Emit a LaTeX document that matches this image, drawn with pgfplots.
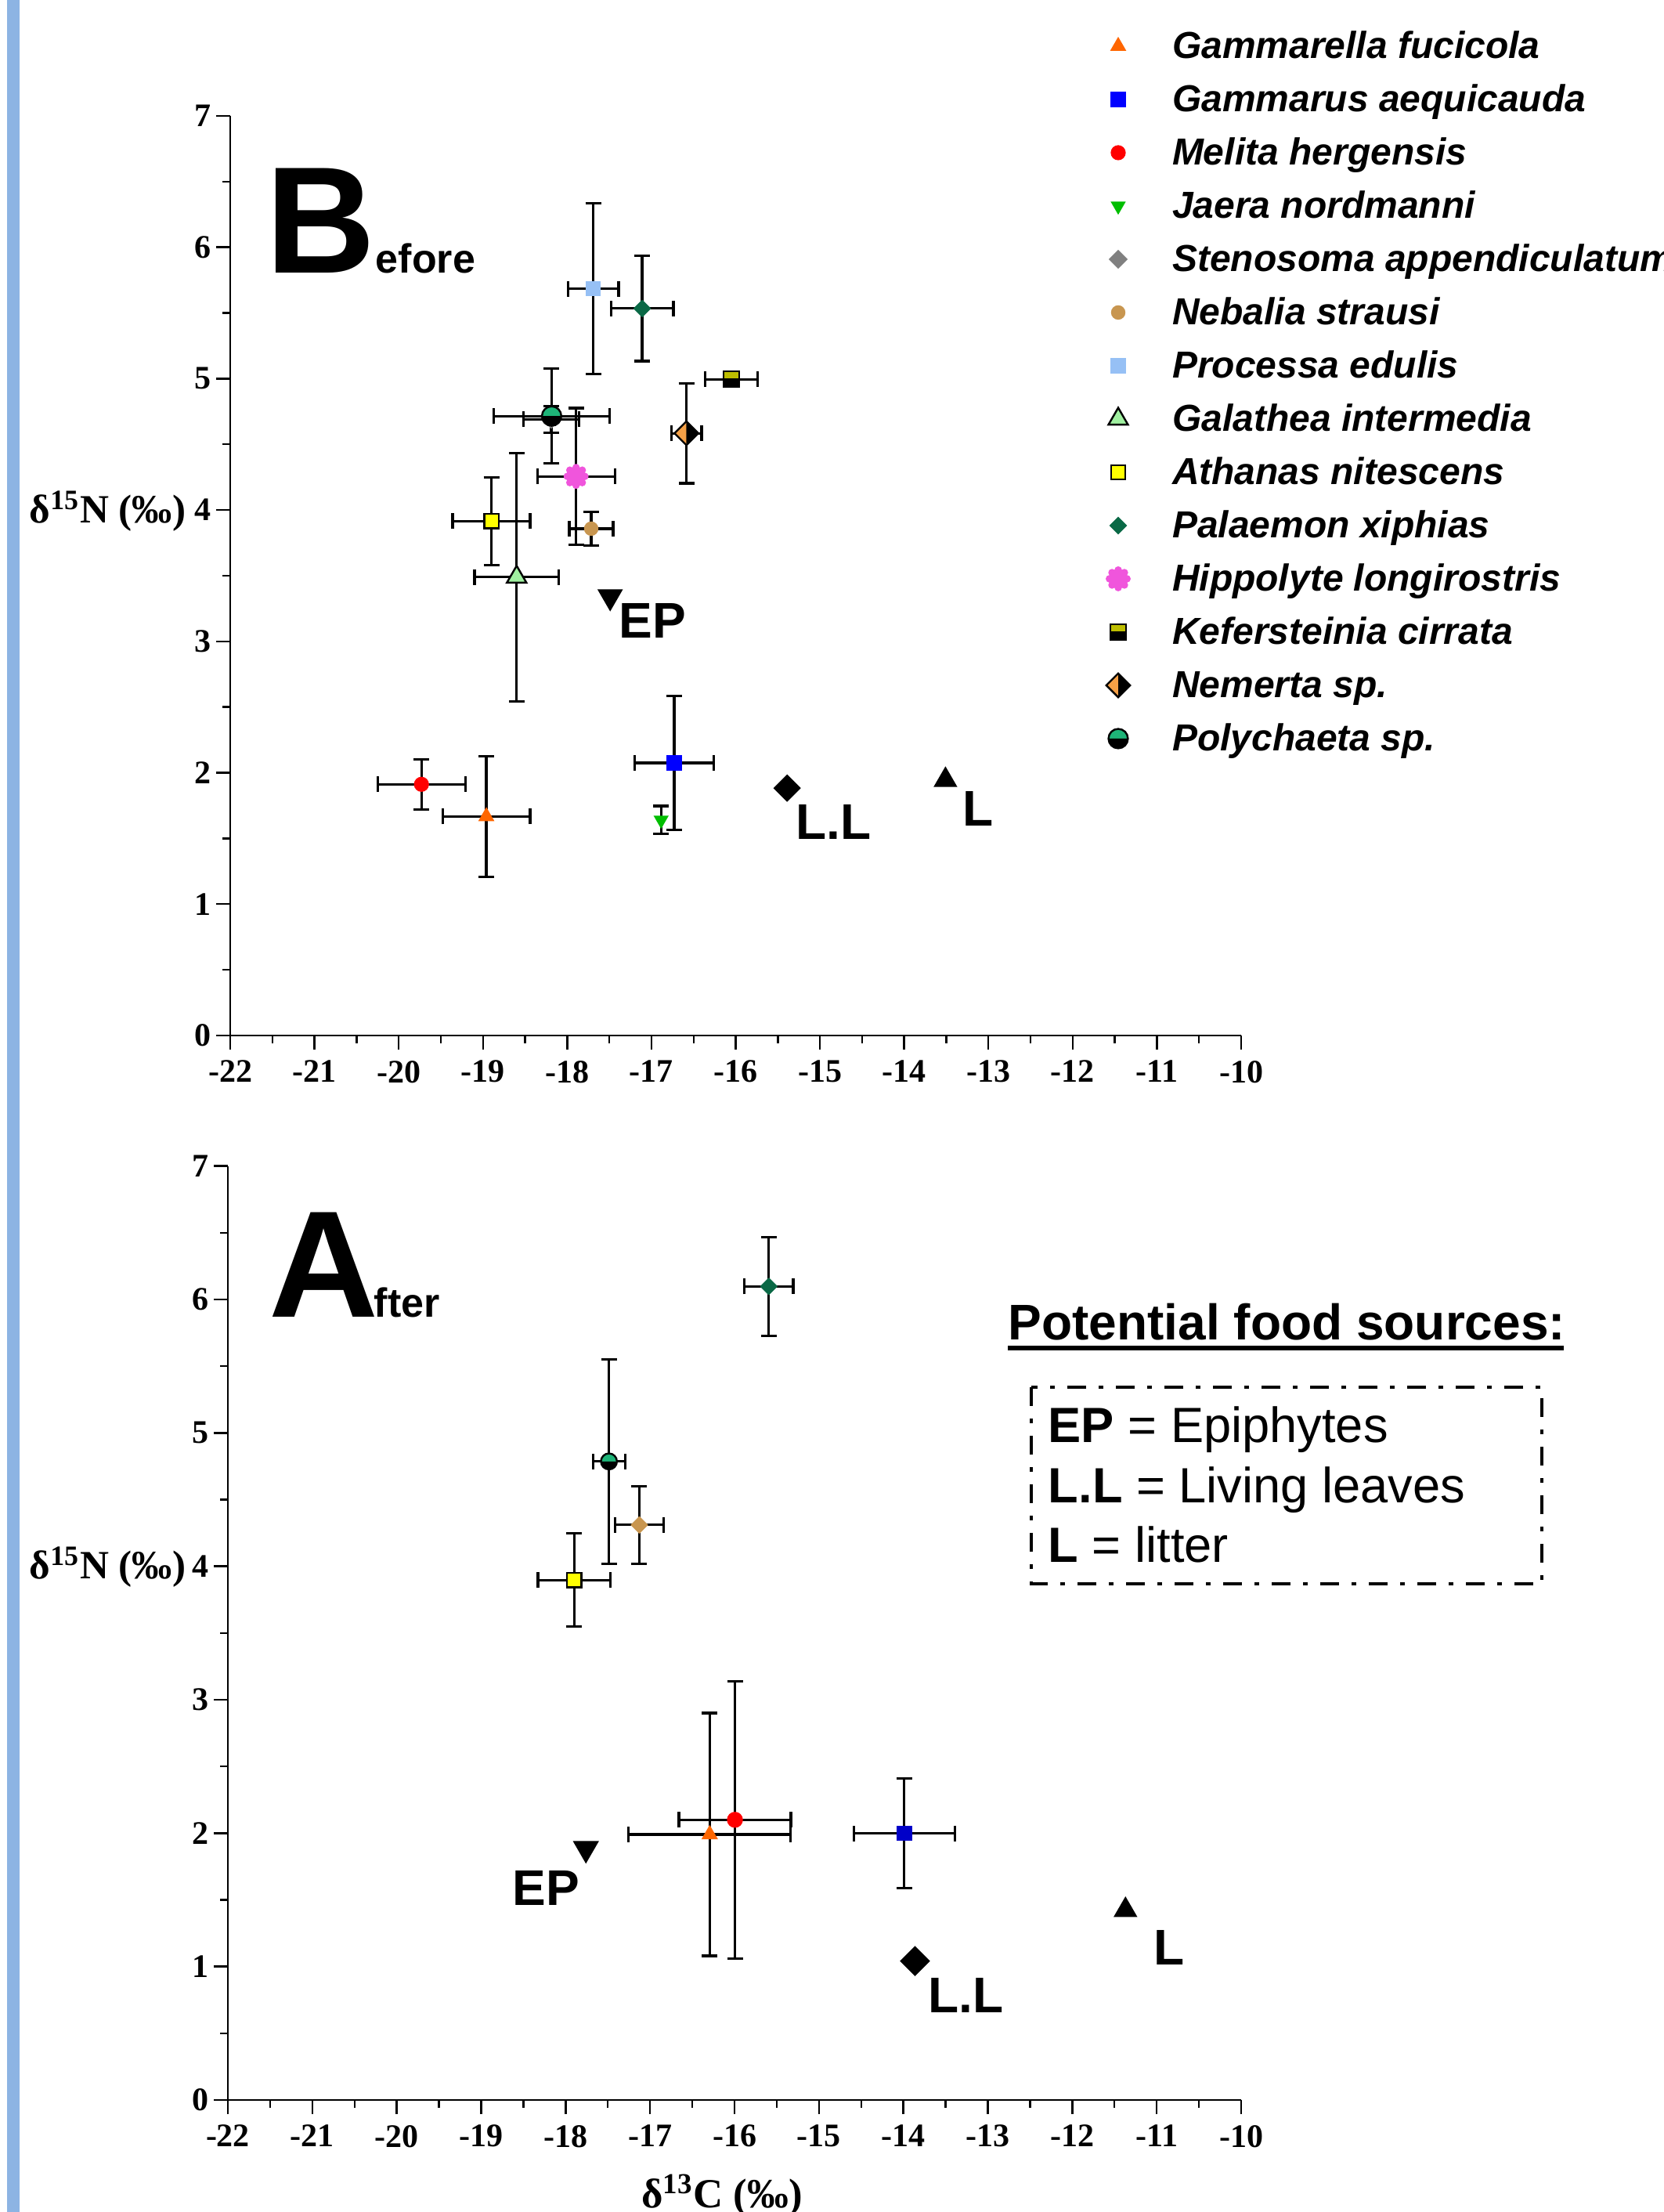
\documentclass[border=0pt]{standalone}
\usepackage{fontspec}
\setmainfont{Liberation Serif}
\setsansfont{Liberation Sans}
\usepackage{pgfplots}
\pgfplotsset{compat=1.18}

\definecolor{cOrange}{RGB}{255,102,0}
\definecolor{cBlue}{RGB}{0,0,255}
\definecolor{cBlueD}{RGB}{0,0,200}
\definecolor{cRed}{RGB}{255,0,0}
\definecolor{cGreen}{RGB}{0,190,0}
\definecolor{cGrey}{RGB}{128,128,128}
\definecolor{cTan}{RGB}{200,150,80}
\definecolor{cLBlue}{RGB}{150,192,245}
\definecolor{cLGreen}{RGB}{160,240,160}
\definecolor{cYellow}{RGB}{255,255,0}
\definecolor{cDGreen}{RGB}{10,105,70}
\definecolor{cPink}{RGB}{240,85,220}
\definecolor{cOlive}{RGB}{190,190,0}
\definecolor{cLOrange}{RGB}{245,160,70}
\definecolor{cTeal}{RGB}{30,180,120}
\definecolor{cBar}{RGB}{141,180,227}

\pgfdeclareplotmark{flower}{%
  \pgfpathcircle{\pgfpointorigin}{0.6\pgfplotmarksize}%
  \pgfpathcircle{\pgfpointpolar{0}{0.7\pgfplotmarksize}}{0.3\pgfplotmarksize}%
  \pgfpathcircle{\pgfpointpolar{45}{0.7\pgfplotmarksize}}{0.3\pgfplotmarksize}%
  \pgfpathcircle{\pgfpointpolar{90}{0.7\pgfplotmarksize}}{0.3\pgfplotmarksize}%
  \pgfpathcircle{\pgfpointpolar{135}{0.7\pgfplotmarksize}}{0.3\pgfplotmarksize}%
  \pgfpathcircle{\pgfpointpolar{180}{0.7\pgfplotmarksize}}{0.3\pgfplotmarksize}%
  \pgfpathcircle{\pgfpointpolar{225}{0.7\pgfplotmarksize}}{0.3\pgfplotmarksize}%
  \pgfpathcircle{\pgfpointpolar{270}{0.7\pgfplotmarksize}}{0.3\pgfplotmarksize}%
  \pgfpathcircle{\pgfpointpolar{315}{0.7\pgfplotmarksize}}{0.3\pgfplotmarksize}%
  \pgfusepathqfill}

\pgfdeclareplotmark{kefer}{%
  \pgfsetfillcolor{cOlive}%
  \pgfpathrectangle{\pgfqpoint{-\pgfplotmarksize}{-\pgfplotmarksize}}{\pgfqpoint{2\pgfplotmarksize}{2\pgfplotmarksize}}%
  \pgfusepathqfill
  \pgfsetfillcolor{black}%
  \pgfpathrectangle{\pgfqpoint{-\pgfplotmarksize}{-\pgfplotmarksize}}{\pgfqpoint{2\pgfplotmarksize}{1.1\pgfplotmarksize}}%
  \pgfusepathqfill
  \pgfsetstrokecolor{black}%
  \pgfpathrectangle{\pgfqpoint{-\pgfplotmarksize}{-\pgfplotmarksize}}{\pgfqpoint{2\pgfplotmarksize}{2\pgfplotmarksize}}%
  \pgfusepathqstroke}

\pgfdeclareplotmark{nemerta}{%
  \pgfsetfillcolor{cLOrange}%
  \pgfpathmoveto{\pgfqpoint{0pt}{\pgfplotmarksize}}%
  \pgfpathlineto{\pgfqpoint{-\pgfplotmarksize}{0pt}}%
  \pgfpathlineto{\pgfqpoint{0pt}{-\pgfplotmarksize}}%
  \pgfpathclose\pgfusepathqfill
  \pgfsetfillcolor{black}%
  \pgfpathmoveto{\pgfqpoint{0pt}{\pgfplotmarksize}}%
  \pgfpathlineto{\pgfqpoint{\pgfplotmarksize}{0pt}}%
  \pgfpathlineto{\pgfqpoint{0pt}{-\pgfplotmarksize}}%
  \pgfpathclose\pgfusepathqfill
  \pgfsetstrokecolor{black}%
  \pgfpathmoveto{\pgfqpoint{0pt}{\pgfplotmarksize}}%
  \pgfpathlineto{\pgfqpoint{\pgfplotmarksize}{0pt}}%
  \pgfpathlineto{\pgfqpoint{0pt}{-\pgfplotmarksize}}%
  \pgfpathlineto{\pgfqpoint{-\pgfplotmarksize}{0pt}}%
  \pgfpathclose\pgfusepathqstroke}

\pgfdeclareplotmark{polych}{%
  \pgfsetfillcolor{cTeal}%
  \pgfpathmoveto{\pgfqpoint{\pgfplotmarksize}{0pt}}%
  \pgfpatharc{0}{180}{\pgfplotmarksize}%
  \pgfpathclose\pgfusepathqfill
  \pgfsetfillcolor{black}%
  \pgfpathmoveto{\pgfqpoint{-\pgfplotmarksize}{0pt}}%
  \pgfpatharc{180}{360}{\pgfplotmarksize}%
  \pgfpathclose\pgfusepathqfill
  \pgfsetstrokecolor{black}%
  \pgfpathcircle{\pgfpointorigin}{\pgfplotmarksize}%
  \pgfusepathqstroke}

\pgfplotsset{
  mylegimg/.style={legend image code/.code={\path[draw=none,fill=none] (-9pt,-1pt) rectangle (9pt,1pt);\draw[mark repeat=1,##1] plot coordinates {(0pt,0pt)};}},
  pt/.style={only marks, mylegimg},
  eb/.style={error bars/x dir=both, error bars/x explicit, error bars/y dir=both, error bars/y explicit},
  ebx/.style={error bars/x dir=both, error bars/x explicit},
  eby/.style={error bars/y dir=both, error bars/y explicit},
  common/.style={
    anchor=south west, scale only axis,
    xmin=-22, xmax=-10, ymin=0, ymax=7,
    axis x line*=bottom, axis y line*=left,
    axis line style={line width=0.6pt, black},
    tick style={line width=0.6pt, black},
    tick align=outside,
    major tick length=4.5pt, minor tick length=2.5pt,
    xtick={-22,-21,-20,-19,-18,-17,-16,-15,-14,-13,-12,-11,-10},
    xticklabels={-22,-21,-20,-19,-18,-17,-16,-15,-14,-13,-12,-11,-10},
    ytick={0,1,2,3,4,5,6,7},
    yticklabels={0,1,2,3,4,5,6,7},
    minor x tick num=1, minor y tick num=1,
    tick label style={font=\bfseries\fontsize{10.5}{12}\selectfont},
    yticklabel style={inner xsep=1.5pt},
    clip=false,
    error bars/error bar style={line width=0.8pt, black},
    error bars/error mark options={rotate=90, line width=0.8pt, mark size=2.5pt, black},
  }
}

\begin{document}
\begin{tikzpicture}
\path[use as bounding box] (0pt,0pt) rectangle (531pt,706pt);
\fill[cBar] (2.25pt,0pt) rectangle (6.25pt,706pt);

% ---------------- Before ----------------
\begin{axis}[common, at={(73.5pt,375.5pt)}, width=322.75pt, height=293.5pt,
  legend cell align=left,
  legend style={at={(0.8505,1.1048)}, anchor=north west, draw=none, fill=none,
    inner sep=0pt, outer sep=0pt, row sep=0pt,
    font=\sffamily\bfseries\itshape\fontsize{12}{14}\selectfont,
    nodes={inner sep=0pt, text height=12.5pt, text depth=4.5pt},
    /tikz/every odd column/.append style={column sep=8.25pt}},
]
\addplot[pt, mark=triangle*, color=cOrange, mark size=2.6pt, eb]
  coordinates {(-18.96,1.667) +- (0.52,0.46)};
\addlegendentry{Gammarella fucicola}
\addplot[pt, mark=square*, color=cBlue, mark size=2.25pt, eb]
  coordinates {(-16.73,2.075) +- (0.47,0.51)};
\addlegendentry{Gammarus aequicauda}
\addplot[pt, mark=*, color=cRed, mark size=2.2pt, eb]
  coordinates {(-19.73,1.912) +- (0.52,0.19)};
\addlegendentry{Melita hergensis}
\addplot[pt, mark=triangle*, mark options={rotate=180}, color=cGreen, mark size=2.4pt, eby]
  coordinates {(-16.885,1.64) +- (0,0.107)};
\addlegendentry{Jaera nordmanni}
\addplot[pt, mark=square*, mark options={rotate=45}, color=cGrey, mark size=1.95pt, eb]
  coordinates {(-18.19,4.69) +- (0.33,0.10)};
\addlegendentry{Stenosoma appendiculatum}
\addplot[pt, mark=*, color=cTan, mark size=2.1pt, eb]
  coordinates {(-17.715,3.858) +- (0.26,0.13)};
\addlegendentry{Nebalia strausi}
\addplot[pt, mark=square*, color=cLBlue, mark size=2.25pt, eb]
  coordinates {(-17.69,5.685) +- (0.30,0.65)};
\addlegendentry{Processa edulis}
\addplot[pt, mark=triangle*, mark options={fill=cLGreen, draw=black, line width=0.6pt}, color=cLGreen, mark size=3.6pt, eb]
  coordinates {(-18.60,3.49) +- (0.50,0.945)};
\addlegendentry{Galathea intermedia}
\addplot[pt, mark=square*, mark options={fill=cYellow, draw=black, line width=0.6pt}, color=cYellow, mark size=2.3pt, eb]
  coordinates {(-18.90,3.915) +- (0.46,0.335)};
\addlegendentry{Athanas nitescens}
\addplot[pt, mark=square*, mark options={rotate=45}, color=cDGreen, mark size=1.8pt, eb]
  coordinates {(-17.11,5.534) +- (0.37,0.40)};
\addlegendentry{Palaemon xiphias}
\addplot[pt, mark=flower, color=cPink, mark size=4pt, eb]
  coordinates {(-17.895,4.256) +- (0.46,0.52)};
\addlegendentry{Hippolyte longirostris}
\addplot[pt, mark=kefer, mark options={line width=0.6pt}, color=black, mark size=2.5pt, ebx]
  coordinates {(-16.05,4.995) +- (0.313,0)};
\addlegendentry{Kefersteinia cirrata}
\addplot[pt, mark=nemerta, mark options={line width=0.6pt}, color=black, mark size=3.8pt, eb]
  coordinates {(-16.585,4.584) +- (0.18,0.38)};
\addlegendentry{Nemerta sp.}
\addplot[pt, mark=polych, mark options={line width=0.6pt}, color=black, mark size=3.1pt, eb]
  coordinates {(-18.185,4.715) +- (0.69,0.36)};
\addlegendentry{Polychaeta sp.}
% food sources
\addplot[only marks, forget plot, mark=triangle*, mark options={rotate=180}, color=black, mark size=4.3pt]
  coordinates {(-17.49,3.34)};
\addplot[only marks, forget plot, mark=square*, mark options={rotate=45}, color=black, mark size=2.9pt]
  coordinates {(-15.39,1.883)};
\addplot[only marks, forget plot, mark=triangle*, color=black, mark size=4pt]
  coordinates {(-13.51,1.944)};
\end{axis}

% ---------------- After ----------------
\begin{axis}[common, at={(72.75pt,35.75pt)}, width=323.5pt, height=298.1pt]
\addplot[pt, mark=square*, mark options={rotate=45}, color=cDGreen, mark size=1.8pt, eb]
  coordinates {(-15.594,6.098) +- (0.29,0.37)};
\addplot[pt, mark=square*, mark options={rotate=45}, color=cTan, mark size=1.8pt, eb]
  coordinates {(-17.127,4.31) +- (0.29,0.29)};
\addplot[pt, mark=polych, mark options={line width=0.6pt}, color=black, mark size=2.55pt, eb]
  coordinates {(-17.487,4.786) +- (0.19,0.767)};
\addplot[pt, mark=square*, mark options={fill=cYellow, draw=black, line width=0.6pt}, color=cYellow, mark size=2.3pt, eb]
  coordinates {(-17.898,3.897) +- (0.43,0.35)};
\addplot[pt, mark=triangle*, color=cOrange, mark size=2.65pt, eb]
  coordinates {(-16.294,1.99) +- (0.96,0.91)};
\addplot[pt, mark=*, color=cRed, mark size=2.35pt, eb]
  coordinates {(-15.995,2.10) +- (0.663,1.04)};
\addplot[pt, mark=square*, color=cBlueD, mark size=2.25pt, eb]
  coordinates {(-13.989,1.998) +- (0.60,0.41)};
% food sources
\addplot[only marks, mark=triangle*, mark options={rotate=180}, color=black, mark size=4.4pt]
  coordinates {(-17.76,1.884)};
\addplot[only marks, mark=square*, mark options={rotate=45}, color=black, mark size=3.2pt]
  coordinates {(-13.863,1.041)};
\addplot[only marks, mark=triangle*, color=black, mark size=4pt]
  coordinates {(-11.37,1.423)};
\end{axis}

\begin{scope}[shift={(0pt,706pt)}, x=0.25pt, y=-0.25pt]
% panel letters
\node[anchor=base west, inner sep=0pt, font=\sffamily\bfseries] at (339,349)
  {\fontsize{48.5}{50}\selectfont B\fontsize{13}{15}\selectfont efore};
\node[anchor=base west, inner sep=0pt, font=\sffamily\bfseries\fontsize{48.5}{50}\selectfont] at (343,1682) {A};
\node[anchor=base west, inner sep=0pt, font=\sffamily\bfseries\fontsize{13}{15}\selectfont] at (477,1682) {fter};
% source labels
\begin{scope}[every node/.style={anchor=base west, inner sep=0pt, font=\sffamily\bfseries\fontsize{16}{18}\selectfont}]
\node at (790,815) {EP};
\node at (1016,1072) {L.L};
\node at (1229,1055) {L};
\node at (654,2433) {EP};
\node at (1185,2570) {L.L};
\node at (1473,2509) {L};
\end{scope}
% axis titles
\node[anchor=base east, inner sep=0pt, font=\bfseries\fontsize{12.8}{15}\selectfont] at (238,668) {δ\textsuperscript{15}N (‰)};
\node[anchor=base east, inner sep=0pt, font=\bfseries\fontsize{12.8}{15}\selectfont] at (238,2016) {δ\textsuperscript{15}N (‰)};
\node[anchor=base, inner sep=0pt, font=\bfseries\fontsize{13.2}{16}\selectfont] at (922,2818) {δ\textsuperscript{13}C (‰)};
% food-source box
\node[anchor=base west, inner sep=0pt, font=\sffamily\bfseries\fontsize{16}{18}\selectfont] at (1287,1711) {Potential food sources:};
\draw[line width=1.5pt] (1287,1721) -- (1997,1721);
\draw[line width=1.2pt, dash pattern=on 6pt off 4pt on 1.5pt off 4pt] (1317,1771) rectangle (1969,2022);
\begin{scope}[every node/.style={anchor=base west, inner sep=0pt, font=\sffamily\fontsize{15.8}{18}\selectfont}]
\node at (1338,1842) {\textbf{EP} = Epiphytes};
\node at (1338,1919) {\textbf{L.L} = Living leaves};
\node at (1338,1995) {\textbf{L} = litter};
\end{scope}
\end{scope}
\end{tikzpicture}
\end{document}
